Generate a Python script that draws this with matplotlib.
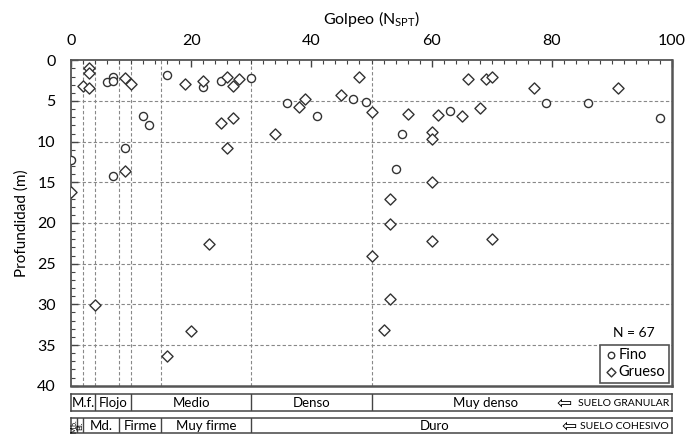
import matplotlib
matplotlib.use('Agg')
import matplotlib.pyplot as plt
from matplotlib.ticker import MultipleLocator

plt.rcParams['font.family'] = ['Lato', 'DejaVu Sans']
plt.rcParams['mathtext.default'] = 'regular'

# Fino (circulos)
fino_n = [0, 6, 7, 7, 7, 9, 12, 13, 16, 22, 25, 30, 36, 41, 47, 49, 55, 54, 63, 79, 86, 98]
fino_z = [12.3, 2.7, 2.1, 2.6, 14.2, 10.8, 6.9, 8.0, 1.8, 3.3, 2.5, 2.2, 5.2, 6.9, 4.8, 5.1,
          9.1, 13.4, 6.2, 5.2, 5.3, 7.1]

# Grueso (rombos)
grueso_n = [3, 3, 2, 3, 9, 10, 19, 22, 26, 27, 28, 25, 27, 26, 9, 0, 23, 4, 20, 16,
            48, 38, 39, 45, 50, 34, 56, 60, 60, 61, 65, 66, 69, 70, 68, 77, 91,
            60, 53, 53, 60, 70, 50, 53, 52]
grueso_z = [0.9, 1.5, 3.2, 3.45, 2.2, 2.9, 2.9, 2.5, 2.05, 3.2, 2.3, 7.7, 7.1, 10.75, 13.6, 16.2,
            22.6, 30.1, 33.3, 36.4, 2.05, 5.8, 4.7, 4.3, 6.3, 9.0, 6.6, 8.8, 9.7, 6.7, 6.9,
            2.3, 2.3, 2.0, 5.9, 3.45, 3.45, 14.9, 17.1, 20.1, 22.2, 22.0, 24.0, 29.3, 33.2]

limites = [2, 4, 8, 10, 15, 30, 50]

granular_bordes = [4, 10, 30, 50]
granular_labels = [(2, 'M.f.'), (7, 'Flojo'), (20, 'Medio'), (40, 'Denso'), (69, 'Muy denso')]
cohesivo_bordes = [1, 2, 8, 15, 30]
cohesivo_labels = [(5, 'Md.'), (11.5, 'Firme'), (22.5, 'Muy firme'), (60.5, 'Duro')]

edge = '#333333'
grid_c = '#888888'

fig = plt.figure(figsize=(6.99, 4.36), dpi=100)
ax = fig.add_axes([0.1016, 0.1154, 0.8598, 0.7463])

ax.scatter(fino_n, fino_z, s=34, marker='o', facecolors='white', edgecolors=edge,
           linewidths=1.0, label='Fino', zorder=3)
ax.scatter(grueso_n, grueso_z, s=32, marker='D', facecolors='white', edgecolors=edge,
           linewidths=1.0, label='Grueso', zorder=3)

ax.set_xlim(0, 100)
ax.set_ylim(40, 0)
ax.xaxis.tick_top()
ax.xaxis.set_label_position('top')
ax.xaxis.set_major_locator(MultipleLocator(20))
ax.xaxis.set_minor_locator(MultipleLocator(2))
ax.yaxis.set_major_locator(MultipleLocator(5))
ax.yaxis.set_minor_locator(MultipleLocator(1))
ax.tick_params(which='both', direction='in', color='#444444')
ax.tick_params(which='major', length=5, width=1, labelsize=11.5)
ax.tick_params(which='minor', length=3, width=0.8)
ax.tick_params(axis='x', which='both', top=True, bottom=False, pad=9)
ax.tick_params(axis='y', which='both', left=True, right=False, pad=11)

for y in range(5, 40, 5):
    ax.axhline(y, color=grid_c, ls=(0, (3, 2)), lw=0.8, zorder=1)
for x in limites:
    ax.axvline(x, color=grid_c, ls=(0, (3, 2)), lw=0.8, zorder=1)

for s in ax.spines.values():
    s.set_color('#555555')
    s.set_linewidth(1.3)
ax.spines['right'].set_linewidth(1.8)
ax.spines['bottom'].set_linewidth(1.8)

ax.set_xlabel(r'Golpeo (N$_{SPT}$)', fontsize=11.5, labelpad=7)
ax.set_ylabel('Profundidad (m)', fontsize=11, labelpad=6)

ax.text(93.7, 33.5, 'N = 67', fontsize=10, ha='center', va='center')
leg = ax.legend(loc='lower right', bbox_to_anchor=(1.0, 0.0), borderaxespad=0.2,
                fontsize=10.5, handletextpad=0.05, borderpad=0.25, labelspacing=0.2,
                handlelength=1.0, markerscale=0.8, fancybox=False, framealpha=1)
leg.get_frame().set_edgecolor('#555555')
leg.get_frame().set_linewidth(1.2)

# Bandas de clasificacion
band1 = fig.add_axes([0.1016, 0.0573, 0.8598, 0.039])
band2 = fig.add_axes([0.1016, 0.0069, 0.8598, 0.035])
for b in (band1, band2):
    b.set_xlim(0, 100)
    b.set_ylim(0, 1)
    b.set_xticks([])
    b.set_yticks([])
    for s in b.spines.values():
        s.set_color('#444444')
        s.set_linewidth(1.1)

for x in granular_bordes:
    band1.axvline(x, color='#444444', lw=1.0)
for x, t in granular_labels:
    band1.text(x, 0.45, t, ha='center', va='center', fontsize=9.5)
band1.text(82.0, 0.42, '\u21e6', ha='center', va='center', fontsize=13, family='DejaVu Sans')
band1.text(99.5, 0.45, 'SUELO GRANULAR', ha='right', va='center', fontsize=7.5)

for x in cohesivo_bordes:
    band2.axvline(x, color='#444444', lw=1.0)
band2.text(0.5, 0.45, 'M.b.', ha='center', va='center', fontsize=5, rotation=90)
band2.text(1.5, 0.45, 'Bl.', ha='center', va='center', fontsize=5.5, rotation=90)
for x, t in cohesivo_labels:
    band2.text(x, 0.45, t, ha='center', va='center', fontsize=9.5)
band2.text(82.8, 0.42, '\u21e6', ha='center', va='center', fontsize=13, family='DejaVu Sans')
band2.text(99.5, 0.45, 'SUELO COHESIVO', ha='right', va='center', fontsize=7.5)

fig.savefig('out.png', dpi=100)
